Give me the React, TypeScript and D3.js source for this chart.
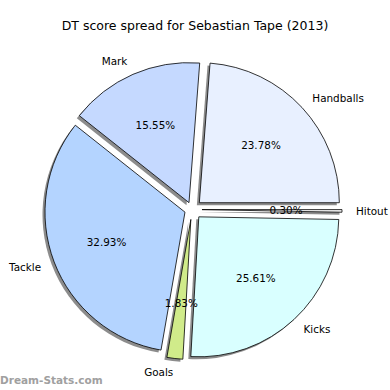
import * as d3 from "d3";

const labels = ["Handballs", "Mark", "Tackle", "Goals", "Kicks", "Hitout"];
const values = [23.78, 15.55, 32.93, 1.83, 25.61, 0.3];
const colors = ["#e8f0ff", "#c5d9ff", "#b4d4ff", "#d0eb8a", "#d9ffff", "#f4f4f4"];
// how far each wedge is pulled out from the centre, in px
const explodes = [10, 7.5, 7.5, 10, 10, 10];

const W = 390;
const H = 390;
const cx = 192;
const cy = 209.5;
const r = 140;

type Row = { label: string; value: number; color: string; explode: number };

export default function App() {
  const rows: Row[] = labels.map((l, i) => ({
    label: l,
    value: values[i],
    color: colors[i],
    explode: explodes[i],
  }));
  // matplotlib style: start at 3 o'clock, go counter-clockwise
  const pie = d3
    .pie<Row>()
    .value((d) => d.value)
    .sort(null)
    .startAngle(Math.PI / 2)
    .endAngle(Math.PI / 2 - 2 * Math.PI);
  const arcs = pie(rows);
  const arc = d3.arc<d3.PieArcDatum<Row>>().innerRadius(0).outerRadius(r);

  const font = "DejaVu Sans, sans-serif";

  const shift = (a: number, dist: number) => [dist * Math.sin(a), -dist * Math.cos(a)];

  return (
    <svg width={W} height={H} style={{ position: "absolute", left: 0, top: 0, background: "#fff" }}>
      <text x={W / 2} y={30} textAnchor="middle" fontFamily={font} fontSize={12.5} fill="#000">
        DT score spread for Sebastian Tape (2013)
      </text>
      {arcs.map((a, i) => {
        const mid = (a.startAngle + a.endAngle) / 2;
        const [dx, dy] = shift(mid, a.data.explode);
        return (
          <path
            key={"s" + i}
            d={arc(a) || ""}
            transform={`translate(${cx + dx - 2.5},${cy + dy + 2.5})`}
            fill="#000"
            fillOpacity={0.45}
          />
        );
      })}
      {arcs.map((a, i) => {
        const mid = (a.startAngle + a.endAngle) / 2;
        const [dx, dy] = shift(mid, a.data.explode);
        return (
          <path
            key={"w" + i}
            d={arc(a) || ""}
            transform={`translate(${cx + dx},${cy + dy})`}
            fill={a.data.color}
            stroke="#000"
            strokeWidth={0.8}
            strokeLinejoin="round"
          />
        );
      })}
      {arcs.map((a, i) => {
        const mid = (a.startAngle + a.endAngle) / 2;
        const [dx, dy] = shift(mid, a.data.explode);
        const [lx, ly] = shift(mid, r * 1.1);
        const [px, py] = shift(mid, r * 0.6);
        return (
          <g key={"t" + i} fontFamily={font} fontSize={10.4} fill="#000">
            <text
              x={cx + dx + lx}
              y={cy + dy + ly}
              dy="0.35em"
              textAnchor={lx > 0 ? "start" : "end"}
            >
              {a.data.label}
            </text>
            <text x={cx + dx + px} y={cy + dy + py} dy="0.35em" textAnchor="middle">
              {a.data.value.toFixed(2)}%
            </text>
          </g>
        );
      })}
      <text x={0} y={384} fontFamily={font} fontSize={10.5} fill="#a0a0a0" fontWeight="bold">
        Dream-Stats.com
      </text>
    </svg>
  );
}
